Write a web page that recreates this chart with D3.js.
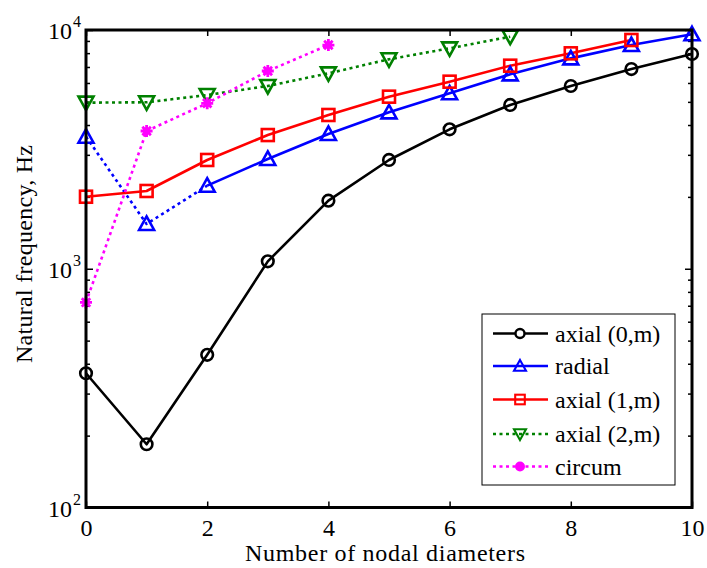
<!DOCTYPE html>
<html>
<head>
<meta charset="utf-8">
<script src="https://cdn.jsdelivr.net/npm/d3@7"></script>
<style>
  html, body { margin: 0; padding: 0; background: #fff; }
  svg text { font-family: "Liberation Serif", "Times New Roman", serif; }
</style>
</head>
<body>
<svg id="chart" width="707" height="568"></svg>
<script>
// Nodal diameters (x) and natural frequencies (Hz) for each mode family
const diameters = [0, 1, 2, 3, 4, 5, 6, 7, 8, 9, 10];
const axial0 = [365, 184, 436, 1074, 1928, 2855, 3837, 4853, 5827, 6863, 7935];
const radial = [3574, 1540, 2228, 2883, 3668, 4520, 5430, 6521, 7607, 8651, 9594];
const axial1 = [2003, 2117, 2855, 3631, 4406, 5257, 6075, 7088, 7985, 9081];
const axial2 = [4962, 4980, 5342, 5827, 6584, 7540, 8379, 9375];
const circum = [723, 3776, 4932, 6733, 8651];

const xTicks = [0, 2, 4, 6, 8, 10];
const yMajorTicks = [100, 1000, 10000];
const yMinorTicks = [200, 300, 400, 500, 600, 700, 800, 900, 2000, 3000, 4000, 5000, 6000, 7000, 8000, 9000];
const legendLabels = ["axial (0,m)", "radial", "axial (1,m)", "axial (2,m)", "circum"];

const FONT = "Liberation Serif";
const svg = d3.select("#chart").attr("font-family", FONT);
const pLeft = 86, pRight = 692, pTop = 30, pBottom = 507.5;

const x = d3.scaleLinear().domain([0, 10]).range([pLeft, pRight]);
const y = d3.scaleLog().domain([100, 10000]).range([pBottom, pTop]);

// white plot background
svg.append("rect").attr("x", pLeft).attr("y", pTop)
  .attr("width", pRight - pLeft).attr("height", pBottom - pTop).attr("fill", "#fff");

// ---- axes (inward ticks on all four sides) ----
function styleAxis(g) {
  g.attr("font-family", FONT);
  g.select(".domain").remove();
  g.selectAll(".tick line").attr("stroke", "#000").attr("stroke-width", 1.5);
}
svg.append("g").attr("transform", `translate(0,${pBottom})`)
  .call(d3.axisBottom(x).tickValues(xTicks).tickSize(-6).tickPadding(10).tickFormat(d3.format("d")))
  .call(styleAxis)
  .call(g => g.selectAll("text").attr("font-size", 24).attr("font-family", FONT)
    .attr("fill", "#000").attr("dy", null).attr("y", 28));
svg.append("g").attr("transform", `translate(0,${pTop})`)
  .call(d3.axisTop(x).tickValues(xTicks).tickSize(-6).tickFormat(""))
  .call(styleAxis);

svg.append("g").attr("transform", `translate(${pLeft},0)`)
  .call(d3.axisLeft(y).tickValues(yMajorTicks).tickSize(-7).tickFormat(""))
  .call(styleAxis);
svg.append("g").attr("transform", `translate(${pLeft},0)`)
  .call(d3.axisLeft(y).tickValues(yMinorTicks).tickSize(-4).tickFormat(""))
  .call(styleAxis);
svg.append("g").attr("transform", `translate(${pRight},0)`)
  .call(d3.axisRight(y).tickValues(yMajorTicks).tickSize(-7).tickFormat(""))
  .call(styleAxis);
svg.append("g").attr("transform", `translate(${pRight},0)`)
  .call(d3.axisRight(y).tickValues(yMinorTicks).tickSize(-4).tickFormat(""))
  .call(styleAxis);

// y tick labels as 10 with a superscript exponent
const yLab = svg.append("g").attr("font-size", 24).attr("fill", "#000").attr("font-family", FONT);
yMajorTicks.forEach(v => {
  yLab.append("text").attr("x", 72).attr("y", y(v) + 9).attr("text-anchor", "end").text("10");
  yLab.append("text").attr("x", 73).attr("y", y(v) - 3).attr("font-size", 16)
    .text(String(Math.round(Math.log10(v))));
});

// axis titles
svg.append("text").attr("x", (pLeft + pRight) / 2 - 4).attr("y", 561)
  .attr("text-anchor", "middle").attr("font-size", 24).attr("fill", "#000")
  .attr("textLength", 280).attr("lengthAdjust", "spacing")
  .text("Number of nodal diameters");
svg.append("text").attr("transform", "translate(32,254) rotate(-90)")
  .attr("text-anchor", "middle").attr("font-size", 24).attr("fill", "#000")
  .attr("textLength", 218).attr("lengthAdjust", "spacing")
  .text("Natural frequency, Hz");

// ---- series ----
const line = d3.line().x(d => x(d[0])).y(d => y(d[1]));
const pairs = vals => vals.map((v, i) => [diameters[i], v]);
const plot = svg.append("g");

function drawLine(data, color, dotted) {
  plot.append("path").attr("d", line(data)).attr("fill", "none")
    .attr("stroke", color).attr("stroke-width", 2.6)
    .attr("stroke-dasharray", dotted ? "3,3.5" : null)
    .attr("stroke-linejoin", "round");
}

// marker shapes
function marker(g, kind, cx, cy, color) {
  const sw = 2.6;
  if (kind === "circle") {
    g.append("circle").attr("cx", cx).attr("cy", cy).attr("r", 5.8)
      .attr("fill", "none").attr("stroke", color).attr("stroke-width", sw);
  } else if (kind === "up") {
    g.append("path").attr("d", `M${cx},${cy - 7.5}L${cx + 7.5},${cy + 6}L${cx - 7.5},${cy + 6}Z`)
      .attr("fill", "none").attr("stroke", color).attr("stroke-width", sw);
  } else if (kind === "down") {
    g.append("path").attr("d", `M${cx},${cy + 7.5}L${cx + 7.5},${cy - 6}L${cx - 7.5},${cy - 6}Z`)
      .attr("fill", "none").attr("stroke", color).attr("stroke-width", sw);
  } else if (kind === "square") {
    g.append("rect").attr("x", cx - 6).attr("y", cy - 6).attr("width", 12).attr("height", 12)
      .attr("fill", "none").attr("stroke", color).attr("stroke-width", sw);
  } else if (kind === "star") {
    const r = 6;
    const d = [0, 45, 90, 135].map(a => {
      const ra = a * Math.PI / 180;
      return `M${cx - r * Math.cos(ra)},${cy - r * Math.sin(ra)}L${cx + r * Math.cos(ra)},${cy + r * Math.sin(ra)}`;
    }).join("");
    g.append("path").attr("d", d).attr("stroke", color).attr("stroke-width", 2.8).attr("fill", "none");
    g.append("circle").attr("cx", cx).attr("cy", cy).attr("r", 3.5).attr("fill", color);
  }
}
function drawMarkers(data, kind, color) {
  data.forEach(d => marker(plot, kind, x(d[0]), y(d[1]), color));
}

const series = [
  { vals: axial0, color: "#000000", kind: "circle", dotted: false },
  { vals: radial, color: "#0000ff", kind: "up", dotted: false, dottedUntil: 2 },
  { vals: axial1, color: "#ff0000", kind: "square", dotted: false },
  { vals: axial2, color: "#008000", kind: "down", dotted: true },
  { vals: circum, color: "#ff00ff", kind: "star", dotted: true }
];

series.forEach(s => {
  const data = pairs(s.vals);
  if (s.dottedUntil !== undefined) {
    drawLine(data.slice(0, s.dottedUntil + 1), s.color, true);
    drawLine(data.slice(s.dottedUntil), s.color, false);
  } else {
    drawLine(data, s.color, s.dotted);
  }
});
series.forEach(s => drawMarkers(pairs(s.vals), s.kind, s.color));

// plot frame
svg.append("rect").attr("x", pLeft).attr("y", pTop)
  .attr("width", pRight - pLeft).attr("height", pBottom - pTop)
  .attr("fill", "none").attr("stroke", "#000").attr("stroke-width", 3);

// ---- legend ----
const lg = svg.append("g").attr("font-family", FONT);
const lx = 482, ly = 314, lw = 193, lh = 171;
lg.append("rect").attr("x", lx).attr("y", ly).attr("width", lw).attr("height", lh)
  .attr("fill", "#fff").attr("stroke", "#000").attr("stroke-width", 1);
const rowY = [333.5, 366, 399.5, 434, 466.5];
series.forEach((s, i) => {
  const yy = rowY[i];
  lg.append("line").attr("x1", 493).attr("x2", 548).attr("y1", yy).attr("y2", yy)
    .attr("stroke", s.color).attr("stroke-width", 2.6)
    .attr("stroke-dasharray", s.dotted ? "3,3.5" : null);
  if (s.kind === "circle") {
    lg.append("circle").attr("cx", 520).attr("cy", yy).attr("r", 4.5)
      .attr("fill", "#fff").attr("stroke", s.color).attr("stroke-width", 2.4);
  } else if (s.kind === "star") {
    lg.append("circle").attr("cx", 520).attr("cy", yy).attr("r", 5).attr("fill", s.color);
  } else {
    lg.append("g").attr("transform", `translate(520,${yy}) scale(0.8) translate(-520,${-yy})`)
      .call(g => marker(g, s.kind, 520, yy, s.color));
  }
  lg.append("text").attr("x", 555).attr("y", yy + 8).attr("font-size", 24).attr("fill", "#000")
    .text(legendLabels[i]);
});
</script>
</body>
</html>
